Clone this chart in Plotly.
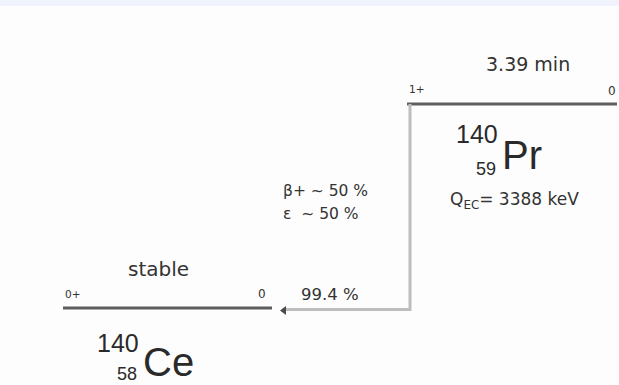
import plotly.graph_objects as go

# ---- data (read from the decay scheme) ----
nuclide_symbols = ["Ce", "Pr"]
mass_numbers = [140, 140]
atomic_numbers = [58, 59]
level_spins = ["0+", "1+"]
level_energies_keV = [0, 3388]          # Ce ground state, Pr ground state (Q_EC)
half_lives = ["stable", "3.39 min"]
level_right_labels = ["0", "0"]
level_x_start = [63, 407]
level_x_end = [272, 617]
branch_intensity = "99.4 %"
decay_modes = ["β+ ~ 50 %", "ε  ~ 50 %"]
q_value_label = "Q<sub>EC</sub>= 3388 keV"

# ---- layout helpers (pixel positions -> axis units) ----
GROUND_PX = 308
K = (level_energies_keV[1] - level_energies_keV[0]) / 204.0   # keV per pixel
y_top = GROUND_PX * K
y_bot = -(385 - GROUND_PX) * K

def p2y(py):
    return (GROUND_PX - py) * K

fig = go.Figure()

# level lines
for xs, xe, e in zip(level_x_start, level_x_end, level_energies_keV):
    fig.add_trace(go.Scatter(x=[xs, xe], y=[e, e], mode="lines",
                             line=dict(color="#5e5e5e", width=3),
                             hoverinfo="skip", showlegend=False))

# decay path (from Pr level down and left to Ce level)
arrow_x_end = 286
path_y = level_energies_keV[0] - 1.5 * K
fig.add_trace(go.Scatter(
    x=[410, 410, arrow_x_end],
    y=[level_energies_keV[1], path_y, path_y],
    mode="lines", line=dict(color="#bdbdbd", width=3),
    hoverinfo="skip", showlegend=False))
fig.add_trace(go.Scatter(
    x=[arrow_x_end - 2], y=[path_y - 1 * K], mode="markers",
    marker=dict(symbol="triangle-left", size=8, color="#4a4a4a"),
    hoverinfo="skip", showlegend=False))

ann = []
big = "Liberation Sans, Arial, sans-serif"
lab = "DejaVu Sans, sans-serif"
col = "#333333"

def add(x, py, text, size, family=lab, xanchor="center", color=col):
    ann.append(dict(x=x, y=p2y(py), text=text, xanchor=xanchor, yanchor="middle",
                    showarrow=False, font=dict(size=size, color=color, family=family)))

# spins and right-hand level labels
add(63, 294, level_spins[0], 10.5, xanchor="left")
add(262, 294, level_right_labels[0], 12)
add(407, 89, level_spins[1], 10.5, xanchor="left")
add(612, 91, level_right_labels[1], 12)

# half-lives
add(158, 269, half_lives[0], 20)
add(528, 64, half_lives[1], 19)

# nuclide labels: (left of symbol x, symbol centre y, mass y, Z y)
nuc_pos = [(141, 362, 343, 374), (500, 155, 134, 169)]
for i in range(2):
    sx, sy, my, zy = nuc_pos[i]
    add(sx, sy, nuclide_symbols[i], 40, family=big, xanchor="left", color="#2a2a2a")
    add(sx, my, str(mass_numbers[i]), 25, family=big, xanchor="right", color="#2a2a2a")
    add(sx - 2, zy, str(atomic_numbers[i]), 18, family=big, xanchor="right", color="#2a2a2a")

# Q value
add(514, 200, q_value_label, 17)

# decay modes
add(281, 191, decay_modes[0], 15.5, xanchor="left")
add(281, 214, decay_modes[1], 15.5, xanchor="left")

# branch intensity
add(299, 294, branch_intensity, 16.5, xanchor="left")

fig.update_layout(
    width=619, height=385,
    margin=dict(l=0, r=0, t=0, b=0),
    paper_bgcolor="#fdfdfd", plot_bgcolor="#fdfdfd",
    xaxis=dict(range=[0, 619], visible=False, fixedrange=True),
    yaxis=dict(range=[y_bot, y_top], visible=False, fixedrange=True),
    annotations=ann,
    shapes=[dict(type="rect", xref="paper", yref="paper", x0=0, x1=1, y0=1 - 6 / 385, y1=1,
                 fillcolor="#f0f3fc", line=dict(width=0), layer="below")],
)

fig.write_html("out.html", config={"displayModeBar": False},
               post_script="document.body.style.margin='0';")
